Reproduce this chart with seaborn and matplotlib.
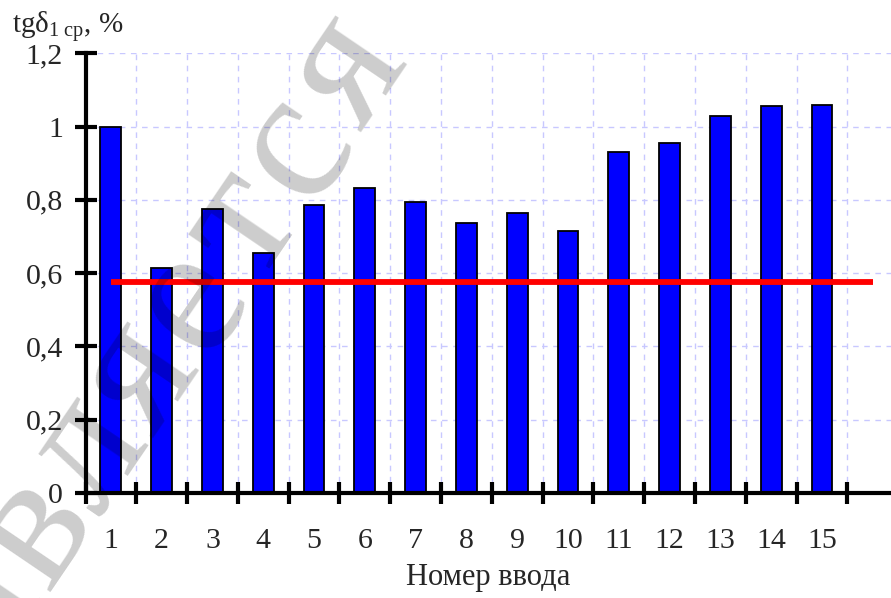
import matplotlib
matplotlib.use("Agg")
import matplotlib.pyplot as plt
import seaborn as sns
import numpy as np
import pandas as pd

# ---- data ----
inputs = list(range(1, 16))
tg_values = [1.000, 0.615, 0.774, 0.655, 0.785, 0.833, 0.794, 0.737,
             0.764, 0.715, 0.930, 0.956, 1.029, 1.055, 1.060]
mean_level = 0.576
y_ticks = [0, 0.2, 0.4, 0.6, 0.8, 1.0, 1.2]
y_tick_labels = ["0", "0,2", "0,4", "0,6", "0,8", "1", "1,2"]
x_label = "Номер ввода"
y_label = r"tgδ$_{\mathregular{1\ ср}}$, %"
watermark = "является"

df = pd.DataFrame({"n": inputs, "v": tg_values})

sns.set_theme(style="white")
plt.rcParams["font.family"] = ["Liberation Serif", "DejaVu Serif"]
plt.rcParams["mathtext.fontset"] = "custom"
plt.rcParams["mathtext.rm"] = "Liberation Serif"
plt.rcParams["mathtext.it"] = "Liberation Serif:italic"

W, H = 891, 598
fig = plt.figure(figsize=(W / 100, H / 100), dpi=100)
left, bottom, top = 85.5, 105, 53.3
ax = fig.add_axes([left / W, bottom / H, 1 - left / W, (H - bottom - top) / H])

sns.barplot(data=df, x="n", y="v", native_scale=True, width=0.41,
            color="#0000ff", saturation=1, edgecolor="black", linewidth=1.3,
            errorbar=None, ax=ax, zorder=3)

ax.hlines(mean_level, inputs[0], inputs[-1] + 1, color="#ff0000", lw=4.2, zorder=4)

spacing = 50.79
ax.set_xlim(0.5, 0.5 + (W - left) / spacing)
ax.set_ylim(0, 1.2)

# ticks
bounds = np.arange(0.5, inputs[-1] + 1, 1.0)
ax.set_xticks(bounds)
ax.set_xticklabels([])
ax.set_xticks(inputs, minor=True)
ax.set_xticklabels([str(i) for i in inputs], minor=True)
ax.set_yticks(y_ticks)
ax.set_yticklabels(y_tick_labels)

ax.tick_params(axis="x", which="both", bottom=True)
ax.tick_params(axis="y", which="both", left=True)
ax.tick_params(axis="both", which="major", direction="inout", length=16.5,
               width=3, color="black", labelsize=21.5)
ax.tick_params(axis="y", which="major", pad=8)
ax.tick_params(axis="x", which="minor", length=0, labelsize=21.5, pad=25)

for s in ["top", "right"]:
    ax.spines[s].set_visible(False)
for s in ["left", "bottom"]:
    ax.spines[s].set_color("black")
    ax.spines[s].set_linewidth(3)
    ax.spines[s].set_zorder(5)

ax.grid(True, which="major", color="#c8c8ff", linestyle=(0, (4, 4)), lw=1, zorder=0)
ax.set_axisbelow(True)

ax.set_xlabel("")
ax.set_ylabel("")
fig.text((left + W) / 2 / W, 1 - 578 / H, x_label, ha="center", va="center", fontsize=22)
fig.text(12 / W, 1 - 34 / H, y_label, ha="left", va="baseline", fontsize=21)

# watermark, letter by letter along a diagonal
p_start = np.array([-17.0, 606.0])   # first letter (partly off the picture)
p_end = np.array([347.0, 70.0])
n_letters = len(watermark)
ang = np.degrees(np.arctan2(p_start[1] - p_end[1], p_end[0] - p_start[0]))
for i, ch in enumerate(watermark):
    p = p_start + (p_end - p_start) * i / (n_letters - 1)
    fig.text(p[0] / W, 1 - p[1] / H, ch, rotation=ang, fontsize=135,
             color="black", alpha=0.2, ha="center", va="center",
             rotation_mode="anchor", zorder=10)

fig.savefig("out.png", dpi=100)
